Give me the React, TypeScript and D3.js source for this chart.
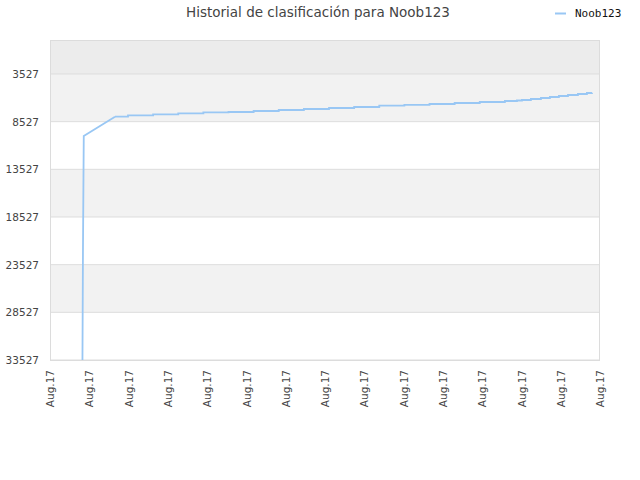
import React, { useEffect, useRef } from "react";
import * as d3 from "d3";

// rank history, early jump (drawn straight)
const introDates = [
  "2017-08-02T07:00",
  "2017-08-02T07:30",
  "2017-08-02T08:15",
  "2017-08-03T14:05",
];
const introRanks = [33527, 21779, 10032, 8005];

// daily updates (drawn as steps)
const stepDates = [
  "2017-08-03T14:05",
  "2017-08-04T02:30",
  "2017-08-05T02:30",
  "2017-08-06T02:30",
  "2017-08-07T02:30",
  "2017-08-08T02:30",
  "2017-08-09T02:30",
  "2017-08-10T02:30",
  "2017-08-11T02:30",
  "2017-08-12T02:30",
  "2017-08-13T02:30",
  "2017-08-14T02:30",
  "2017-08-15T02:30",
  "2017-08-16T02:30",
  "2017-08-17T02:30",
  "2017-08-18T02:30",
  "2017-08-19T02:30",
  "2017-08-19T14:00",
  "2017-08-19T18:45",
  "2017-08-20T03:20",
  "2017-08-20T12:55",
  "2017-08-20T21:30",
  "2017-08-21T06:05",
  "2017-08-21T14:45",
  "2017-08-22T00:15",
  "2017-08-22T08:50",
  "2017-08-22T13:40",
];
const stepRanks = [
  8005, 7858, 7753, 7648, 7543, 7512, 7407, 7302, 7197, 7092, 6987, 6851,
  6757, 6673, 6568, 6463, 6358, 6305, 6253, 6148, 6043, 5938, 5833, 5728,
  5624, 5519, 5487,
];

const yTicks = [3527, 8527, 13527, 18527, 23527, 28527, 33527];
const xStart = "2017-08-01T00:00";
const xEnd = "2017-08-22T21:20";
const xTickCount = 15;
const title = "Historial de clasificación para Noob123";
const seriesName = "Noob123";

const width = 640;
const height = 480;
const marginTop = 40;
const marginRight = 40;
const marginBottom = 120;
const marginLeft = 50;
const lineColor = "#99c7f4";
const labelColor = "#444";

export default function App() {
  const ref = useRef<SVGSVGElement>(null);

  useEffect(() => {
    const svg = d3.select(ref.current);
    svg.selectAll("*").remove();

    const parse = (s: string) => new Date(s);
    const x = d3
      .scaleTime()
      .domain([parse(xStart), parse(xEnd)])
      .range([marginLeft, width - marginRight]);

    const y = d3
      .scaleLinear()
      .domain([33527, -40])
      .range([height - marginBottom, marginTop]);

    // background bands between the ticks
    const bounds = [y.domain()[1], ...yTicks];
    svg
      .append("g")
      .selectAll("rect")
      .data(d3.pairs(bounds))
      .join("rect")
      .attr("x", marginLeft)
      .attr("width", width - marginLeft - marginRight)
      .attr("y", (d) => y(d[0]))
      .attr("height", (d) => y(d[1]) - y(d[0]))
      .attr("fill", (_, i) =>
        i === 0 ? "#ececec" : i % 2 === 1 ? "#f2f2f2" : "#ffffff"
      );

    // grid lines
    svg
      .append("g")
      .selectAll("line")
      .data(yTicks)
      .join("line")
      .attr("x1", marginLeft)
      .attr("x2", width - marginRight)
      .attr("y1", (d) => y(d))
      .attr("y2", (d) => y(d))
      .attr("stroke", "#dddddd");

    svg
      .append("rect")
      .attr("x", marginLeft + 0.5)
      .attr("y", marginTop + 0.5)
      .attr("width", width - marginLeft - marginRight - 1)
      .attr("height", height - marginTop - marginBottom)
      .attr("fill", "none")
      .attr("stroke", "#dcdcdc");

    // y axis labels
    svg
      .append("g")
      .attr("transform", `translate(${marginLeft},0)`)
      .call(
        d3
          .axisLeft(y)
          .tickValues(yTicks)
          .tickSize(0)
          .tickPadding(11)
          .tickFormat(d3.format("d"))
      )
      .call((g) => g.select(".domain").remove())
      .call((g) =>
        g
          .selectAll("text")
          .attr("fill", labelColor)
          .attr("font-family", "DejaVu Sans")
          .attr("font-size", 10.5)
      );

    // x axis labels, evenly spread like the original
    const [d0, d1] = x.domain();
    const xTicks = d3
      .range(xTickCount)
      .map((i) => new Date(+d0 + ((+d1 - +d0) * i) / (xTickCount - 1)));
    svg
      .append("g")
      .attr("transform", `translate(0,${height - marginBottom})`)
      .call(
        d3
          .axisBottom(x)
          .tickValues(xTicks)
          .tickSize(0)
          .tickFormat((d) => d3.timeFormat("%b.%y")(d as Date))
      )
      .call((g) => g.select(".domain").remove())
      .call((g) =>
        g
          .selectAll("text")
          .attr("fill", labelColor)
          .attr("font-family", "DejaVu Sans")
          .attr("font-size", 10.5)
          .attr("text-anchor", "end")
          .attr("dy", "0.35em")
          .attr("transform", "translate(0,10) rotate(-90)")
          .attr("x", 0)
          .attr("y", 0)
      );

    const line = d3
      .line<[Date, number]>()
      .x((d) => x(d[0]))
      .y((d) => y(d[1]));

    const intro = introDates.map(
      (s, i) => [parse(s), introRanks[i]] as [Date, number]
    );
    const steps = stepDates.map(
      (s, i) => [parse(s), stepRanks[i]] as [Date, number]
    );

    svg
      .append("path")
      .datum(intro)
      .attr("fill", "none")
      .attr("stroke", lineColor)
      .attr("stroke-width", 1.8)
      .attr("d", line);

    svg
      .append("path")
      .datum(steps)
      .attr("fill", "none")
      .attr("stroke", lineColor)
      .attr("stroke-width", 1.8)
      .attr("d", line.curve(d3.curveStepAfter));

    // title and legend
    svg
      .append("text")
      .attr("x", 318)
      .attr("y", 17)
      .attr("text-anchor", "middle")
      .attr("font-family", "DejaVu Sans")
      .attr("font-size", 13.5)
      .attr("fill", labelColor)
      .text(title);

    svg
      .append("line")
      .attr("x1", 555)
      .attr("x2", 566)
      .attr("y1", 13.5)
      .attr("y2", 13.5)
      .attr("stroke", lineColor)
      .attr("stroke-width", 2);

    svg
      .append("text")
      .attr("x", 575)
      .attr("y", 17)
      .attr("font-family", "DejaVu Sans Mono")
      .attr("font-size", 11)
      .attr("fill", "#111")
      .text(seriesName);
  }, []);

  return (
    <div style={{ position: "absolute", left: 0, top: 0 }}>
      <svg ref={ref} width={width} height={height}></svg>
    </div>
  );
}
